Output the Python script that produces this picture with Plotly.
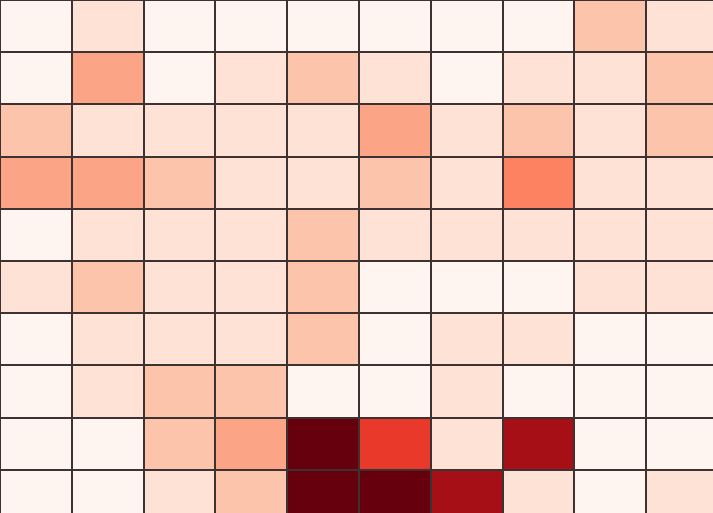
import plotly.graph_objects as go

cols = list(range(10))
rows = list(range(10))

# cell intensity levels, row by row from top to bottom
z = [
    [0, 1, 0, 0, 0, 0, 0, 0, 2, 1],
    [0, 3, 0, 1, 2, 1, 0, 1, 1, 2],
    [2, 1, 1, 1, 1, 3, 1, 2, 1, 2],
    [3, 3, 2, 1, 1, 2, 1, 4, 1, 1],
    [0, 1, 1, 1, 2, 1, 1, 1, 1, 1],
    [1, 2, 1, 1, 2, 0, 0, 0, 1, 1],
    [0, 1, 1, 1, 2, 0, 1, 1, 0, 0],
    [0, 1, 2, 2, 0, 0, 1, 0, 0, 0],
    [0, 0, 2, 3, 9, 6, 1, 8, 0, 0],
    [0, 0, 1, 2, 9, 9, 8, 1, 0, 1],
]

colorscale = [
    [0.0, "#fff5f0"],
    [1 / 9, "#fee2d5"],
    [2 / 9, "#fcc5ab"],
    [3 / 9, "#fca486"],
    [4 / 9, "#fc8262"],
    [6 / 9, "#e9392a"],
    [8 / 9, "#a60f16"],
    [1.0, "#67000d"],
]

fig = go.Figure(
    go.Heatmap(
        z=z,
        x=cols,
        y=rows,
        colorscale=colorscale,
        zmin=0,
        zmax=9,
        showscale=False,
        xgap=2,
        ygap=2,
        hoverinfo="skip",
    )
)

cell_w = 71.8
cell_h = 52.2
W, H = 713, 513

fig.update_layout(
    width=W,
    height=H,
    margin=dict(l=0, r=0, t=0, b=0),
    plot_bgcolor="#3d3131",
    paper_bgcolor="#ffffff",
    xaxis=dict(
        range=[-0.5, -0.5 + W / cell_w],
        showgrid=False,
        zeroline=False,
        showticklabels=False,
        ticks="",
        fixedrange=True,
    ),
    yaxis=dict(
        range=[-0.5 + H / cell_h, -0.5],
        showgrid=False,
        zeroline=False,
        showticklabels=False,
        ticks="",
        fixedrange=True,
    ),
)

fig.write_html(
    "out.html",
    config={"displayModeBar": False},
    post_script="document.body.style.margin='0';document.body.style.overflow='hidden';",
)
